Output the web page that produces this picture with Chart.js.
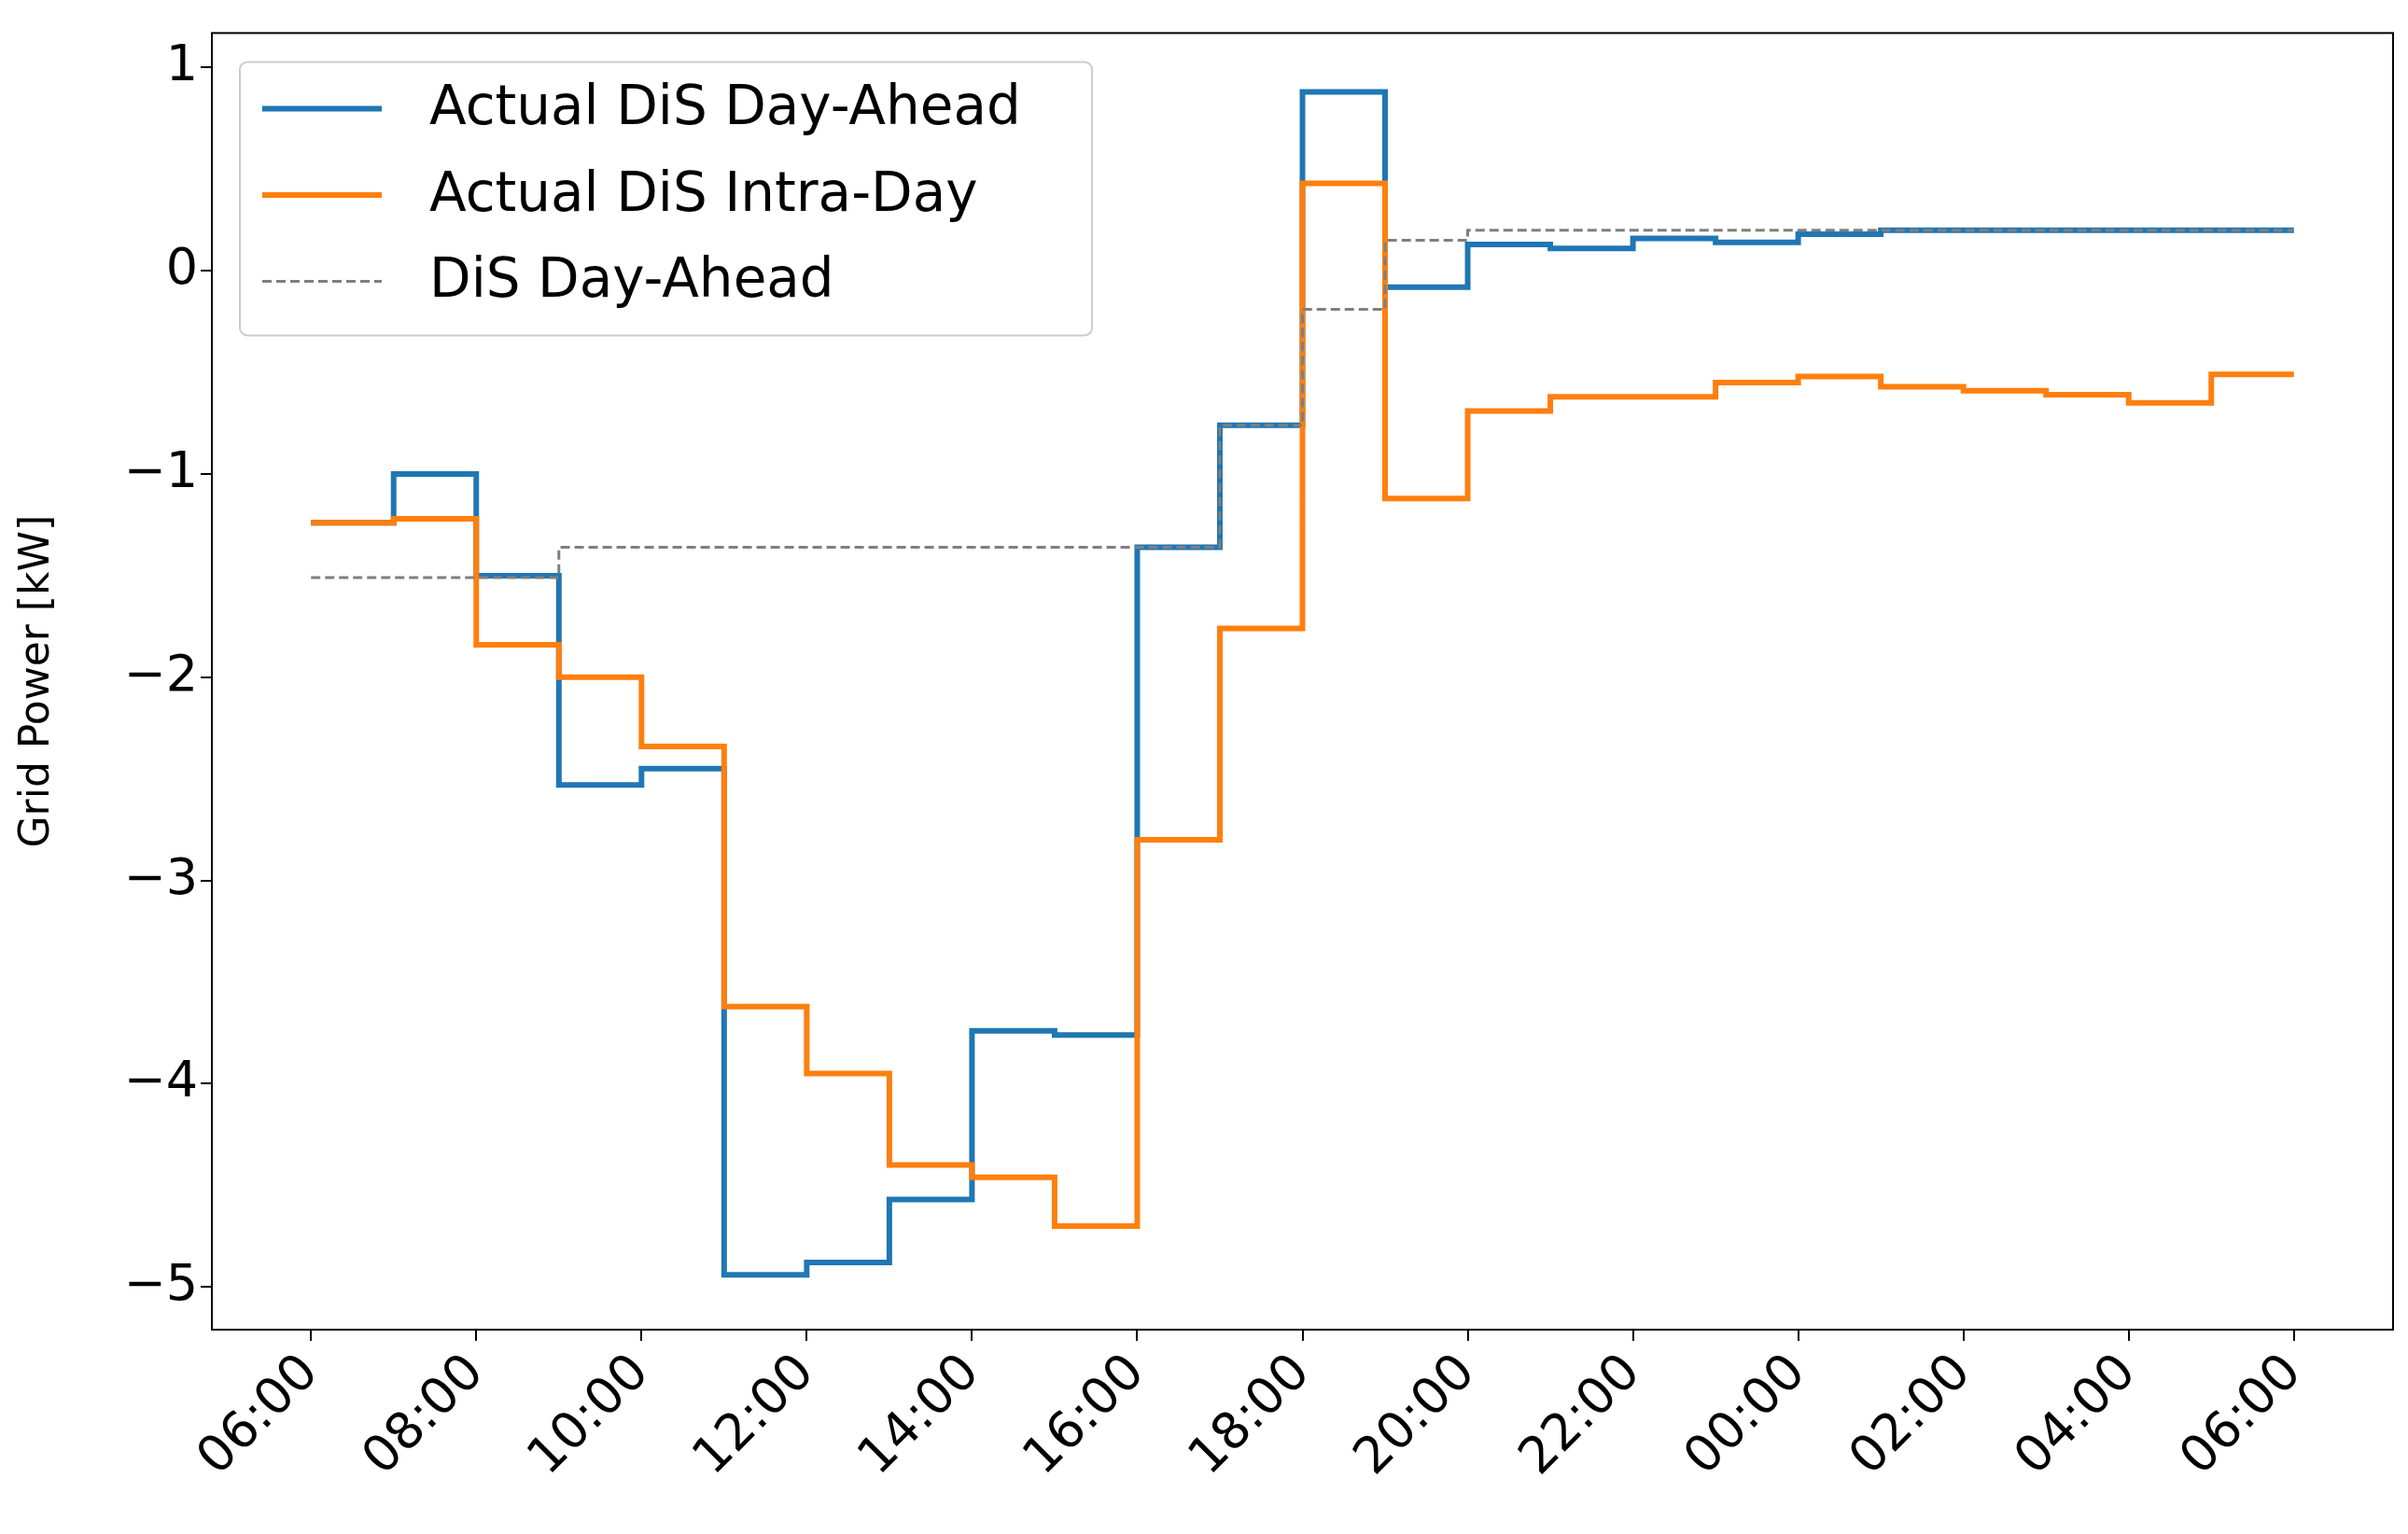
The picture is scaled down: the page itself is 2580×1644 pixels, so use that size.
<!DOCTYPE html>
<html><head><meta charset="utf-8">
<script src="https://cdn.jsdelivr.net/npm/chart.js@4"></script>
<style>html,body{margin:0;background:#fff}#w{width:2580px;height:1644px}</style>
</head><body><div id="w"><canvas id="c"></canvas></div>
<script>
const hours = [0,1,2,3,4,5,6,7,8,9,10,11,12,13,14,15,16,17,18,19,20,21,22,23,24];
const xTickLabels = ["06:00","08:00","10:00","12:00","14:00","16:00","18:00","20:00","22:00","00:00","02:00","04:00","06:00"];
const actualDayAhead = [-1.24,-1.00,-1.50,-2.53,-2.45,-4.94,-4.88,-4.57,-3.74,-3.76,-1.36,-0.76,0.88,-0.08,0.13,0.11,0.16,0.14,0.18,0.20,0.20,0.20,0.20,0.20,0.20];
const actualIntraDay = [-1.24,-1.22,-1.84,-2.00,-2.34,-3.62,-3.95,-4.40,-4.46,-4.70,-2.80,-1.76,0.43,-1.12,-0.69,-0.62,-0.62,-0.55,-0.52,-0.57,-0.59,-0.61,-0.65,-0.51,-0.51];
const disDayAhead = [-1.51,-1.51,-1.51,-1.36,-1.36,-1.36,-1.36,-1.36,-1.36,-1.36,-1.36,-0.76,-0.19,0.15,0.20,0.20,0.20,0.20,0.20,0.20,0.20,0.20,0.20,0.20,0.20];
const pts = a => a.map((v,i)=>({x:hours[i],y:v}));
const F = 'DejaVu Sans';
const legendBox = {id:'lb', afterDraw(ch){
  const c=ch.ctx, a=ch.chartArea; c.save();
  c.strokeStyle='#000'; c.lineWidth=2; c.strokeRect(a.left,a.top,a.right-a.left,a.bottom-a.top);
  const x0=a.left+30,y0=a.top+31,w=913,h=293;
  c.fillStyle='rgba(255,255,255,0.8)'; c.strokeStyle='#ccc'; c.lineWidth=2;
  c.beginPath(); c.roundRect(x0,y0,w,h,8); c.fill(); c.stroke();
  c.font='58px '+F; c.textBaseline='middle'; c.fillStyle='#000';
  [0,1,2].forEach(i=>{
    const d=ch.data.datasets[i], y=y0+50+i*92.5;
    c.strokeStyle=d.borderColor; c.lineWidth=d.borderWidth; c.setLineDash(d.borderDash||[]);
    c.beginPath(); c.moveTo(x0+24,y); c.lineTo(x0+152,y); c.stroke(); c.setLineDash([]);
    c.fillText(d.label,x0+203,y+2);
  });
  c.restore();
}};
const tickGrid = {drawOnChartArea:false,drawTicks:true,tickLength:12,color:'#000',lineWidth:2};
new Chart(document.getElementById('c'),{
  type:'line',
  data:{datasets:[
    {label:'Actual DiS Day-Ahead',data:pts(actualDayAhead),borderColor:'#1f77b4',borderWidth:6,stepped:true,pointRadius:0,order:3},
    {label:'Actual DiS Intra-Day',data:pts(actualIntraDay),borderColor:'#ff7f0e',borderWidth:6,stepped:true,pointRadius:0,order:2},
    {label:'DiS Day-Ahead',data:pts(disDayAhead),borderColor:'#7f7f7f',borderWidth:3,borderDash:[10,5],stepped:true,pointRadius:0,order:1}
  ]},
  plugins:[legendBox],
  options:{responsive:true,maintainAspectRatio:false,animation:false,
    layout:{padding:{left:14,right:16,top:30,bottom:0}},
    plugins:{legend:{display:false},tooltip:{enabled:false}},
    scales:{
      x:{type:'linear',min:-1.2,max:25.2,grid:tickGrid,border:{display:false},
        afterBuildTicks(s){s.ticks=[0,2,4,6,8,10,12,14,16,18,20,22,24].map(v=>({value:v}));},
        afterFit(s){s.height=219;},
        ticks:{autoSkip:false,maxRotation:45,minRotation:45,color:'#000',font:{family:F,size:54},
          callback:(v)=>xTickLabels[v/2]}},
      y:{min:-5.21,max:1.17,grid:tickGrid,border:{display:false},
        afterBuildTicks(s){s.ticks=[-5,-4,-3,-2,-1,0,1].map(v=>({value:v}));},
        afterFit(s){s.width=213;},
        ticks:{color:'#000',font:{family:F,size:54},callback:v=>String(v).replace('-','\u2212')},
        title:{display:true,text:'Grid Power [kW]',color:'#000',font:{family:F,size:44},padding:{top:0,bottom:0}}}
    }}
});
</script></body></html>
